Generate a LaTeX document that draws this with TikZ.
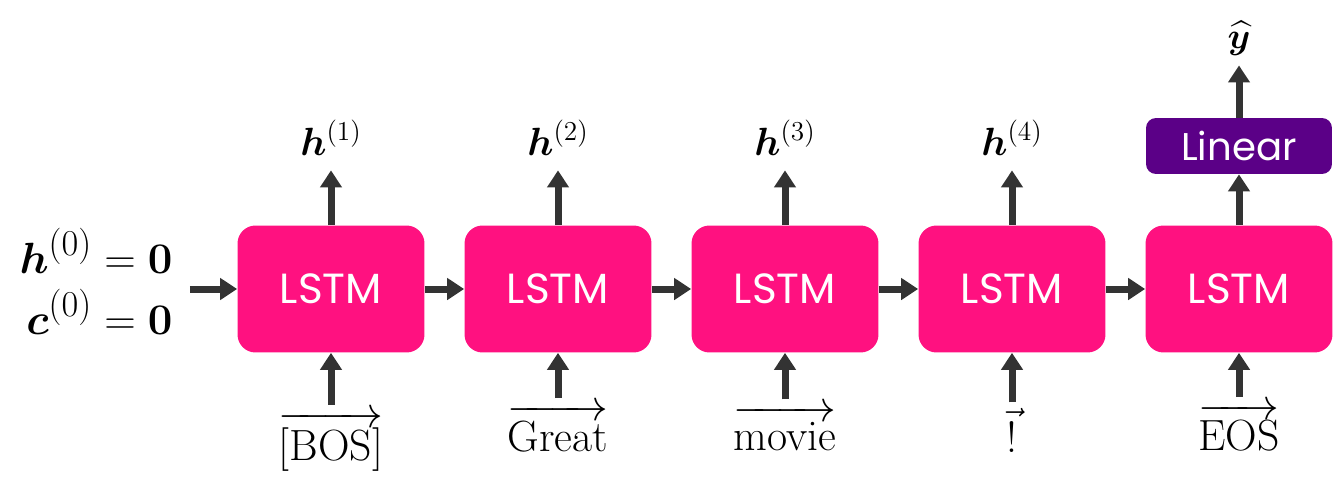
\documentclass[tikz,border=0pt]{standalone}
\usepackage{amsmath}
\usepackage{bm}
\usepackage{fontspec}
\usetikzlibrary{arrows.meta}
\newfontfamily\cellfont{Poppins}
\definecolor{cellpink}{HTML}{FF1180}
\definecolor{linpurple}{HTML}{5B0087}
\definecolor{arrowgray}{HTML}{333333}
\tikzset{
  lstm/.style={fill=cellpink, rounded corners=0.36cm, minimum width=3.74cm,
    minimum height=2.54cm, text=white, font=\cellfont\fontsize{24}{28}\selectfont},
  lin/.style={fill=linpurple, rounded corners=0.2cm, minimum width=3.72cm,
    minimum height=1.12cm, text=white, font=\cellfont\fontsize{22}{26}\selectfont},
  flow/.style={arrowgray, line width=0.14cm, -{Triangle[width=0.42cm,length=0.34cm]}},
  lbl/.style={inner sep=0pt, font=\huge},
  wrd/.style={inner sep=0pt, anchor=base, font=\Huge},
}
\begin{document}
\begin{tikzpicture}[x=0.02cm,y=-0.02cm]
  \useasboundingbox (0,0) rectangle (1335,487);
  % estado inicial
  \node[lbl, font=\Huge] (init) at (96,289)
    {$\begin{aligned}\bm{h}^{(0)}&=\bm{0}\\[-4pt] \bm{c}^{(0)}&=\bm{0}\end{aligned}$};
  % celdas LSTM
  \foreach \i/\x in {1/331,2/558,3/785,4/1012,5/1239}
    \node[lstm] (c\i) at (\x,289) {LSTM};
  % capa lineal y salida
  \node[lin] (lin) at (1239,146) {Linear};
  \node[lbl, anchor=base] (yhat) at (1239,48) {$\widehat{\bm{y}}$};
  % estados ocultos
  \foreach \i/\x in {1/331,2/558,3/785,4/1012}
    \node[lbl, anchor=base, scale=1.08] (h\i) at (\x,155) {$\bm{h}^{(\i)}$};
  % palabras de entrada
  \node[wrd] (w1) at (331,460) {$\overrightarrow{\text{[BOS]}}$};
  \node[wrd] (w2) at (558,451) {$\overrightarrow{\text{Great}}$};
  \node[wrd] (w3) at (785,450) {$\overrightarrow{\text{movie}}$};
  \node[wrd] (w4) at (1012,452) {$\vec{\text{!}}$};
  \node[wrd] (w5) at (1239,450) {$\overrightarrow{\text{EOS}}$};
  % flechas
  \draw[flow, shorten <=0.34cm] (init.east) -- (c1.west);
  \foreach \i/\j in {1/2,2/3,3/4,4/5}
    \draw[flow] (c\i.east) -- (c\j.west);
  \foreach \i in {1,...,4}
    \draw[flow, shorten >=0.3cm] (c\i.north) -- (h\i.south);
  \foreach \i in {1,...,5}
    \draw[flow, shorten <=0.12cm] (w\i.north) -- (c\i.south);
  \draw[flow] (c5.north) -- (lin.south);
  \draw[flow, shorten >=0.2cm] (lin.north) -- (yhat.south);
\end{tikzpicture}
\end{document}
